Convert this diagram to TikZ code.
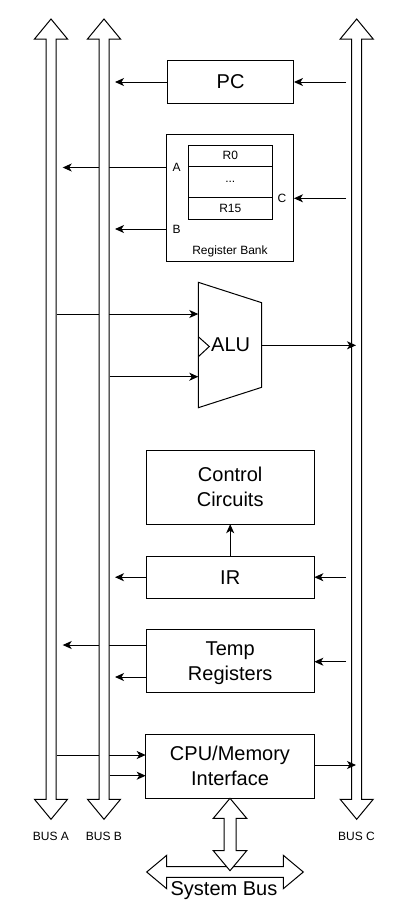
\documentclass[tikz,border=0pt]{standalone}
\usepackage{fontspec}
\setmainfont{Liberation Sans}
\usetikzlibrary{arrows.meta}
\newcommand\drawvbus[3]{%
  \draw[busshape] (#1,#2) -- ++(16.5,20) -- ++(-11.5,0) -- (#1+5,#3-20) -- ++(11.5,0)
    -- (#1,#3) -- ++(-16.5,-20) -- ++(11.5,0) -- (#1-5,#2+20) -- ++(-11.5,0) -- cycle;}
\begin{document}
\begin{tikzpicture}[x=1pt,y=-1pt,
  every node/.style={inner sep=0pt, outer sep=0pt},
  box/.style={draw, line width=1pt, fill=white, align=center},
  bigtxt/.style={font=\fontsize{20}{25}\selectfont},
  smalltxt/.style={font=\fontsize{12}{14}\selectfont},
  conn/.style={line width=1pt, -{Stealth[length=9pt,width=8pt,inset=2.5pt]}},
  busshape/.style={draw, line width=1pt, fill=white, line join=miter},
]
\useasboundingbox (0,0) rectangle (410,922);
\fill[white] (0,0) rectangle (410,922);

% free-end coordinates near the buses
\coordinate (tipA) at (62.7,0);
\coordinate (tipB) at (115,0);
\coordinate (srcA) at (56.5,0);
\coordinate (srcB) at (109.5,0);
\coordinate (srcC) at (346,0);
\coordinate (tipC) at (356,0);

% PC
\node[box,bigtxt,minimum width=126.7pt,minimum height=42.6pt] (pc) at (230.6,82) {PC};

% Register bank
\node[box,minimum width=127.3pt,minimum height=126.7pt] (rb) at (230.3,197.7) {};
\node[box,smalltxt,minimum width=84pt,minimum height=21pt] (r0) at (230.3,155.5) {R0};
\node[box,smalltxt,minimum width=84pt,minimum height=31.7pt] (rdots) at (230.3,181.85) {...};
\node[box,smalltxt,minimum width=84pt,minimum height=21.3pt] (r15) at (230.3,208.35) {R15};
\node[smalltxt] (la) at (176.7,167.5) {A};
\node[smalltxt] (lb) at (176.7,229) {B};
\node[smalltxt] (lc) at (282,198.3) {C};
\node[smalltxt,anchor=base] (rbl) at (230,254.3) {Register Bank};

% ALU
\coordinate (alutl) at (198.3,282.3);
\coordinate (alutr) at (261.7,302.7);
\coordinate (alubr) at (261.7,387.3);
\coordinate (alubl) at (198.3,407.7);
\draw[line width=1pt, fill=white, line join=miter] (alutl) -- (alutr) -- (alubr) -- (alubl) -- cycle;
\coordinate (notcha) at (198.3,336.7);
\coordinate (notchb) at (209.3,346.5);
\coordinate (notchc) at (198.3,356.7);
\draw[line width=1pt] (notcha) -- (notchb) -- (notchc);
\node[bigtxt,anchor=base west] (alu) at (211.2,351) {ALU};
\coordinate (aluA) at (198.3,314);
\coordinate (aluB) at (198.3,376.7);
\coordinate (aluout) at (261.7,345.3);

% Control, IR, Temp, CPU/Memory
\node[box,bigtxt,minimum width=168.3pt,minimum height=74pt] (cc) at (230.2,487.2) {Control\\Circuits};
\node[box,bigtxt,minimum width=168.3pt,minimum height=42.3pt] (ir) at (230.2,577.2) {IR};
\node[box,bigtxt,minimum width=168.3pt,minimum height=62.7pt,text depth=0pt] (tmp) at (230.2,661) {Temp\\Registers};
\node[box,bigtxt,minimum width=168.6pt,minimum height=64pt] (cpu) at (230,766.3) {CPU/Memory\\Interface};

\coordinate (tmpa) at ([yshift=16pt]tmp.west);
\coordinate (tmpb) at ([yshift=-16pt]tmp.west);
\coordinate (tmpc) at ([yshift=-0.7pt]tmp.east);
\coordinate (cpua) at ([yshift=11.3pt]cpu.west);
\coordinate (cpub) at ([yshift=-9.4pt]cpu.west);
\coordinate (cpuo) at ([yshift=1.3pt]cpu.east);

% Bus C (under its incoming arrow tips)
\drawvbus{356.7}{19}{819.3}

% connectors
\draw[conn] (pc.west) -- (pc.west -| tipB);
\draw[conn] (pc.east -| srcC) -- (pc.east);
\draw[conn] (la -| rb.west) -- (la -| tipA);
\draw[conn] (lb -| rb.west) -- (lb -| tipB);
\draw[conn] (lc -| srcC) -- (lc -| rb.east);
\draw[conn] (aluA -| srcA) -- (aluA);
\draw[conn] (aluB -| srcB) -- (aluB);
\draw[conn] (aluout) -- (aluout -| tipC);
\draw[conn] (ir.north) -- (cc.south);
\draw[conn] (ir.west) -- (ir.west -| tipB);
\draw[conn] (ir.east -| srcC) -- (ir.east);
\draw[conn] (tmpa) -- (tmpa -| tipA);
\draw[conn] (tmpb) -- (tmpb -| tipB);
\draw[conn] (tmpc -| srcC) -- (tmpc);
\draw[conn] (cpua -| srcA) -- (cpua);
\draw[conn] (cpub -| srcB) -- (cpub);
\draw[conn] (cpuo) -- (cpuo -| tipC);

% Buses A and B (over crossing lines)
\drawvbus{51}{19}{819.3}
\drawvbus{104}{19}{819.3}

\node[smalltxt,anchor=base] (busa) at (51,840) {BUS A};
\node[smalltxt,anchor=base] (busb) at (104,840) {BUS B};
\node[smalltxt,anchor=base] (busc) at (356.5,840) {BUS C};

% System bus
\draw[busshape] (146.7,872) -- (166.7,855.3) -- (166.7,866.7) -- (283.3,866.7) -- (283.3,855.3)
  -- (303.3,872) -- (283.3,888.7) -- (283.3,877.3) -- (166.7,877.3) -- (166.7,888.7) -- cycle;
\draw[busshape] (cpu.south) -- (246.7,818.3) -- (236,818.3) -- (236,850.7) -- (246.7,850.7)
  -- (230,870.7) -- (213.3,850.7) -- (224,850.7) -- (224,818.3) -- (213.3,818.3) -- cycle;
\node[font=\fontsize{20}{24}\selectfont,anchor=base] (sysbus) at (224,895) {System Bus};
\end{tikzpicture}
\end{document}
